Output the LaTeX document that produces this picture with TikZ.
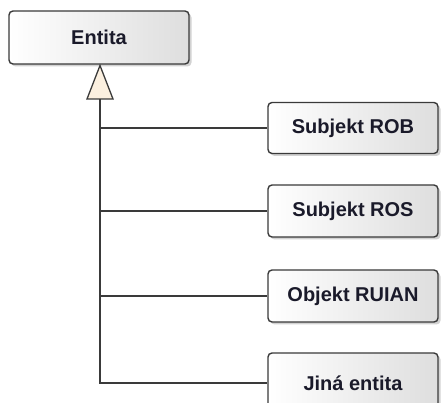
\documentclass[tikz,border=0pt]{standalone}
\usepackage{fontspec}
\setmainfont{Liberation Sans}
\usetikzlibrary{shadows}
\definecolor{tri}{HTML}{FBF0E0}
\definecolor{edge}{HTML}{3A3A3A}
\definecolor{txt}{HTML}{1A1A2A}
\begin{document}
\begin{tikzpicture}[x=1pt,y=-1pt,
  cls/.style={draw=edge, line width=1.4pt, rounded corners=4pt,
    left color=white, right color=black!13,
    drop shadow={shadow xshift=2.5pt,shadow yshift=-2.5pt,fill=black!35,opacity=0.5},
    font=\fontsize{20}{23}\selectfont\bfseries, text=txt, inner sep=0pt},
  link/.style={draw=edge, line width=1.4pt},
  gen/.style={draw=edge, line width=1.3pt, fill=tri, line join=miter}]
\useasboundingbox (0,0) rectangle (442,403);
\clip (0,0) rectangle (442,403);
\node[cls, minimum width=180pt, minimum height=53pt] (entita) at (99,37.5) {Entita};
\node[cls, minimum width=170pt, minimum height=51pt] (rob) at (353,128) {Subjekt ROB};
\node[cls, minimum width=170pt, minimum height=52pt] (ros) at (353,211) {Subjekt ROS};
\node[cls, minimum width=170pt, minimum height=52pt] (ruian) at (353,296) {Objekt RUIAN};
\node[cls, minimum width=170pt, minimum height=60pt] (jina) at (353,383) {Jiná entita};
\coordinate (apex) at (100,65.5);
\coordinate (base) at (100,99);
\draw[link] (base) |- (jina.west);
\draw[link] (rob.west -| base) -- (rob.west);
\draw[link] (ros.west -| base) -- (ros.west);
\draw[link] (ruian.west -| base) -- (ruian.west);
\draw[gen] (apex) -- (base -| 87,0) -- (base -| 113,0) -- cycle;
\end{tikzpicture}
\end{document}
